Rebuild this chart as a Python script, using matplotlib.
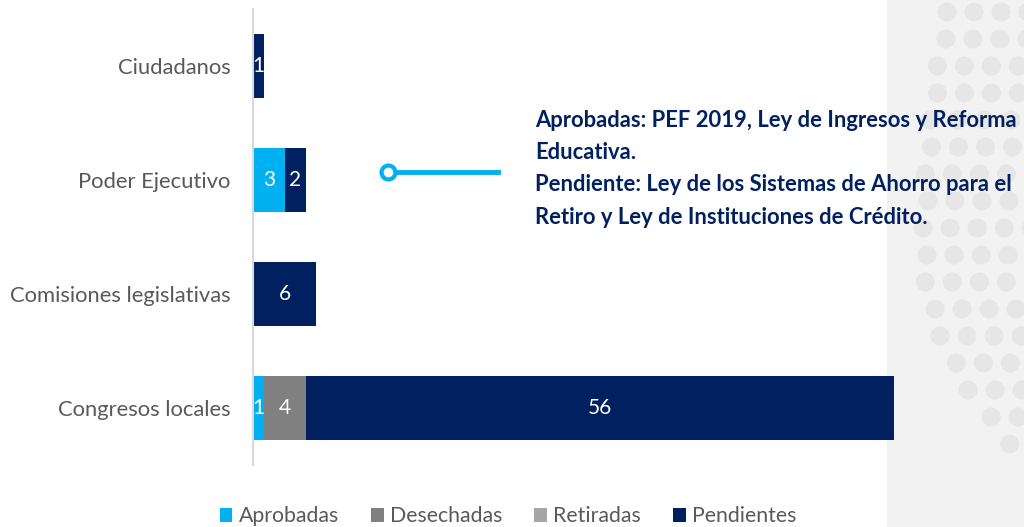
import numpy as np
import matplotlib
matplotlib.use("Agg")
import matplotlib.pyplot as plt
from matplotlib.patches import Rectangle, Ellipse

plt.rcParams['font.family'] = ['Lato', 'DejaVu Sans']

# datos
categorias = ["Ciudadanos", "Poder Ejecutivo", "Comisiones legislativas", "Congresos locales"]
aprobadas = [0, 3, 0, 1]
desechadas = [0, 0, 0, 4]
retiradas = [0, 0, 0, 0]
pendientes = [1, 2, 6, 56]
series = ["Aprobadas", "Desechadas", "Retiradas", "Pendientes"]
colores = ["#00B0F0", "#808080", "#A6A6A6", "#002060"]
nota = ("Aprobadas: PEF 2019, Ley de Ingresos y Reforma\nEducativa.\n"
        "Pendiente: Ley de los Sistemas de Ahorro para el\nRetiro y Ley de Instituciones de Crédito.")

W, H = 1024, 527
fig = plt.figure(figsize=(W / 100, H / 100), dpi=100)

# panel decorativo a la derecha
fig.patches.append(Rectangle((887 / W, 0), (W - 887) / W, 1, transform=fig.transFigure,
                             facecolor="#F2F2F2", edgecolor="none", zorder=-3))
for yy in np.arange(12, 470, 27):
    if yy < 250:
        x0 = 923 + 0.000424 * (yy - 250) ** 2
    else:
        x0 = 923 + 0.0023 * (yy - 250) ** 2
    for k in range(5):
        xx = x0 + 27 * k + (yy // 27 % 2) * 4
        if xx > W + 10:
            break
        fig.patches.append(Ellipse((xx / W, 1 - yy / H), 19 / W, 19 / H, transform=fig.transFigure,
                                   facecolor="#E6E6E6", edgecolor="none", zorder=-2))

ax = fig.add_axes([253 / W, 62 / H, 641 / W, (465 - 9) / H])
ax.patch.set_alpha(0)

y = np.arange(len(categorias))
izq = np.zeros(len(categorias))
for nombre, vals, col in zip(series, [aprobadas, desechadas, retiradas, pendientes], colores):
    vals = np.array(vals, dtype=float)
    bars = ax.barh(y, vals, left=izq, height=0.57, color=col, label=nombre, zorder=2)
    for b, v in zip(bars, vals):
        if v > 0:
            ax.text(b.get_x() + b.get_width() / 2, b.get_y() + b.get_height() / 2, f"{int(v)}",
                    ha="center", va="center", color="white", fontsize=15, zorder=3)
    izq += vals

ax.set_xlim(0, 61)
ax.set_ylim(-0.5, 3.5)
ax.invert_yaxis()
ax.set_yticks(y)
ax.set_yticklabels(categorias, fontsize=15.8, color="#595959")
ax.tick_params(axis="y", length=0, pad=16)
ax.set_xticks([])
for s in ["top", "right", "bottom"]:
    ax.spines[s].set_visible(False)
ax.spines["left"].set_color("#D9D9D9")
ax.spines["left"].set_linewidth(1.5)

# conector y nota
fig.add_artist(plt.Line2D([388 / W, 498 / W], [1 - 172 / H, 1 - 172 / H], transform=fig.transFigure,
                          color="#00B0F0", linewidth=3.5, zorder=4))
fig.add_artist(plt.Line2D([388 / W], [1 - 172 / H], transform=fig.transFigure, marker="o",
                          markersize=10, markerfacecolor="white", markeredgecolor="#00B0F0",
                          markeredgewidth=3, zorder=5))
fig.text(535 / W, 1 - 110 / H, nota, ha="left", va="top", fontsize=15.8, fontweight="bold",
         color="#002060", linespacing=1.66, zorder=6)

fig.legend(loc="lower center", bbox_to_anchor=(508 / W, -0.035), ncol=4, frameon=False,
           fontsize=15.3, handlelength=0.6, handleheight=0.6, handletextpad=0.3,
           columnspacing=1.5, labelcolor="#595959")

fig.savefig("out.png", dpi=100)
